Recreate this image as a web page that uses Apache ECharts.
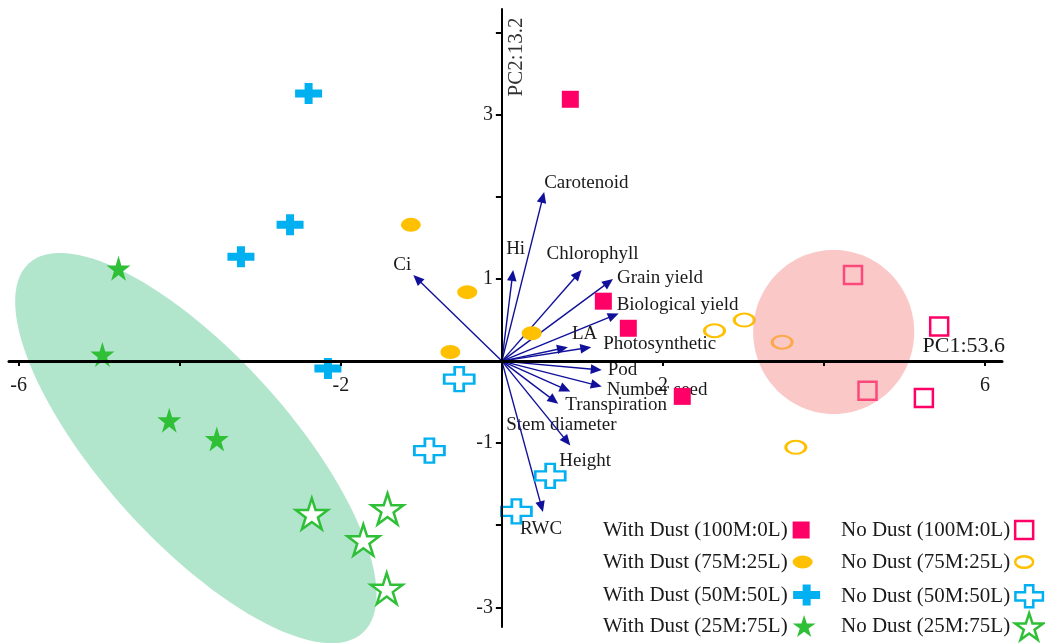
<!DOCTYPE html>
<html><head><meta charset="utf-8">
<script src="https://cdn.jsdelivr.net/npm/echarts@6/dist/echarts.min.js"></script>
<style>html,body{margin:0;padding:0;background:#fff}#c{width:1045px;height:643px}</style>
</head><body><div id="c"></div>
<script>
// ---------- data ----------
const xTickValues = [-6, -4, -2, 0, 2, 4, 6];
const xLabelValues = [-6, -2, 2, 6];
const yTickValues = [-3, -2, -1, 0, 1, 2, 3, 4];
const yLabelValues = [-3, -1, 1, 3];
const xAxisTitle = 'PC1:53.6';
const yAxisTitle = 'PC2:13.2';

const groupNames = [
  'With Dust (100M:0L)', 'With Dust (75M:25L)', 'With Dust (50M:50L)', 'With Dust (25M:75L)',
  'No Dust (100M:0L)', 'No Dust (75M:25L)', 'No Dust (50M:50L)', 'No Dust (25M:75L)'
];
const withDust100 = [[0.85, 3.19], [1.26, 0.73], [1.57, 0.40], [2.24, -0.43]];
const withDust75  = [[-1.13, 1.66], [-0.43, 0.84], [-0.64, 0.11], [0.37, 0.34]];
const withDust50  = [[-2.40, 3.26], [-2.63, 1.66], [-3.24, 1.27], [-2.16, -0.09]];
const withDust25  = [[-4.76, 1.13], [-4.96, 0.08], [-4.13, -0.72], [-3.54, -0.95]];
const noDust100   = [[4.36, 1.05], [5.43, 0.42], [4.54, -0.36], [5.24, -0.45]];
const noDust75    = [[2.64, 0.37], [3.01, 0.50], [3.48, 0.23], [3.65, -1.05]];
const noDust50    = [[-0.53, -0.22], [-0.90, -1.09], [0.60, -1.40], [0.18, -1.83]];
const noDust25    = [[-2.36, -1.86], [-1.42, -1.80], [-1.72, -2.18], [-1.43, -2.77]];

const loadingNames = ['Carotenoid', 'Hi', 'Chlorophyll', 'Grain yield', 'Biological yield', 'LA',
  'Photosynthetic', 'Pod', 'Number seed', 'Transpiration', 'Stem diameter', 'Height', 'RWC', 'Ci'];
const loadingX = [0.525, 0.14, 0.99, 1.38, 1.45, 0.82, 1.11, 1.24, 1.24, 0.85, 0.70, 0.85, 0.51, -1.10];
const loadingY = [2.06, 1.11, 1.11, 1.00, 0.58, 0.17, 0.17, -0.11, -0.31, -0.37, -0.52, -1.03, -1.84, 1.05];

// confidence ellipses: [centerX, centerY, semiAxisA, semiAxisB, angleDeg]
const ellipseNoDust = [4.12, 0.355, 1.0, 1.0, 0];
const ellipseWithDust25 = [-3.80, -1.06, 3.06, 1.15, -47.2];

// ---------- styles / layout ----------
const PINK = '#ff0066', ORANGE = '#ffc000', BLUE = '#00b0f0', GREEN = '#30c038', ARROW = '#10109a';
const FONT = 'Liberation Serif';
const TEXT = '#1a1a1a';
const SQUARE = 'rect';
const ELLIPSE = 'path://M0,6.5A10,6.5 0 1,1 20,6.5A10,6.5 0 1,1 0,6.5Z';
const CROSS = 'path://M9.5,0H17.5V6.5H27V14.5H17.5V21H9.5V14.5H0V6.5H9.5Z';
const CROSS_H = 'path://M10.5,0H19.5V7.5H30V16.5H19.5V24H10.5V16.5H0V7.5H10.5Z';
const STAR = 'path://M50,0L61.23,34.55L97.55,34.55L68.17,55.9L79.39,90.45L50,69.1L20.61,90.45L31.83,55.9L2.45,34.55L38.77,34.55Z';

const groupData = [withDust100, withDust75, withDust50, withDust25, noDust100, noDust75, noDust50, noDust25];
const groupStyle = [
  {symbol: SQUARE, size: [17, 17], color: PINK, hollow: false},
  {symbol: ELLIPSE, size: [20, 14], color: ORANGE, hollow: false},
  {symbol: CROSS, size: [27, 21], color: BLUE, hollow: false},
  {symbol: STAR, size: [24, 25], color: GREEN, hollow: false},
  {symbol: SQUARE, size: [18, 18], color: PINK, hollow: true},
  {symbol: ELLIPSE, size: [20, 13], color: ORANGE, hollow: true},
  {symbol: CROSS_H, size: [30, 24], color: BLUE, hollow: true},
  {symbol: STAR, size: [32, 31], color: GREEN, hollow: true}
];
const legendIconSize = [[17, 17], [20, 13], [28, 21], [23, 24], [18, 18], [18, 12], [28, 22], [28, 30]];
const legendRowCenter = [530, 562, 595, 627];
const legendColLeft = [603, 841];

// label offsets (px) from arrow tip
const labelOffsets = [[0, -9], [-7, -21], [-35, -16], [4, -1], [-2, -8], [4, -13], [12, -3], [6, 0],
  [5, 3], [-5, 14], [-52, 21], [-11, 15], [-23, 17], [-20, -10]];

function itemStyleFor(s) {
  return s.hollow ? {color: '#ffffff', borderColor: s.color, borderWidth: 2.5, opacity: 1}
                  : {color: s.color, borderWidth: 0, opacity: 1};
}

const series = [];
groupNames.forEach((name, i) => {
  const s = groupStyle[i];
  series.push({
    name: name, type: 'scatter', data: groupData[i], symbol: s.symbol, symbolSize: s.size,
    itemStyle: itemStyleFor(s), z: 4, emphasis: {disabled: true}
  });
});

series.push({
  name: 'loadings', type: 'custom', z: 3, silent: true,
  data: loadingNames.map((n, i) => [loadingX[i], loadingY[i]]),
  encode: {x: 0, y: 1},
  renderItem: function (params, api) {
    const o = api.coord([0, 0]);
    const p = api.coord([api.value(0), api.value(1)]);
    const dx = p[0] - o[0], dy = p[1] - o[1];
    const L = Math.hypot(dx, dy), ux = dx / L, uy = dy / L;
    const hl = 11, hw = 4.8;
    const bx = p[0] - ux * hl, by = p[1] - uy * hl;
    const off = labelOffsets[params.dataIndex];
    return {type: 'group', children: [
      {type: 'line', shape: {x1: o[0], y1: o[1], x2: bx + ux * 2, y2: by + uy * 2}, style: {stroke: ARROW, lineWidth: 1.4}},
      {type: 'polygon', shape: {points: [p, [bx - uy * hw, by + ux * hw], [bx + uy * hw, by - ux * hw]]}, style: {fill: ARROW}},
      {type: 'text', x: p[0] + off[0], y: p[1] + off[1], style: {
        text: loadingNames[params.dataIndex], fill: TEXT, fontFamily: FONT, fontSize: 19,
        align: 'left', verticalAlign: 'middle'}}
    ]};
  }
});

function renderEllipse(params, api) {
  const cx = api.value(0), cy = api.value(1), a = api.value(2), b = api.value(3);
  const ang = api.value(4) * Math.PI / 180;
  const pts = [];
  for (let k = 0; k < 120; k++) {
    const t = k / 120 * 2 * Math.PI;
    const ex = a * Math.cos(t), ey = b * Math.sin(t);
    pts.push(api.coord([cx + ex * Math.cos(ang) - ey * Math.sin(ang), cy + ex * Math.sin(ang) + ey * Math.cos(ang)]));
  }
  return {type: 'polygon', shape: {points: pts}, style: {fill: api.visual('color')}};
}

// green ellipse below the points, pink circle above
series.push({
  name: 'ellipseWith', type: 'custom', z: 1, silent: true,
  data: [{value: ellipseWithDust25}], itemStyle: {color: 'rgba(100,204,153,0.5)'},
  encode: {x: 0, y: 1}, renderItem: renderEllipse
});
series.push({
  name: 'ellipseNo', type: 'custom', z: 6, silent: true,
  data: [{value: ellipseNoDust}], itemStyle: {color: 'rgba(248,145,145,0.5)'},
  encode: {x: 0, y: 1}, renderItem: renderEllipse
});

// tick labels placed through the axes' own scales
series.push({
  name: 'tickLabels', type: 'custom', z: 12, silent: true,
  data: xLabelValues.map(v => [v, 0, 0]).concat(yLabelValues.map(v => [0, v, 1])),
  encode: {x: 0, y: 1},
  renderItem: function (params, api) {
    const isY = api.value(2) === 1;
    const v = isY ? api.value(1) : api.value(0);
    const p = api.coord([api.value(0), api.value(1)]);
    return {type: 'text', x: isY ? p[0] - 9 : p[0], y: isY ? p[1] : p[1] + 15, style: {
      text: String(v), fill: TEXT, fontFamily: FONT, fontSize: 20,
      align: isY ? 'right' : 'center', verticalAlign: isY ? 'middle' : 'top'}};
  }
});

const legends = groupNames.map((name, i) => {
  const s = groupStyle[i];
  const sz = legendIconSize[i];
  const row = i % 4, col = Math.floor(i / 4);
  const h = Math.max(sz[1], 22);
  return {
    show: true, data: [{name: name, icon: s.symbol, itemStyle: itemStyleFor(s)}],
    left: legendColLeft[col], top: legendRowCenter[row] - h / 2, padding: 0,
    itemWidth: sz[0], itemHeight: sz[1], align: 'right', selectedMode: false,
    textStyle: {fontFamily: FONT, fontSize: 21, color: TEXT, lineHeight: 22}
  };
});

const option = {
  backgroundColor: '#ffffff',
  animation: false,
  grid: {left: 9, right: 43, top: 9, bottom: 16, containLabel: false, outerBoundsMode: 'none'},
  xAxis: {
    type: 'value', min: -6.12, max: 6.21, z: 8,
    axisLine: {onZero: true, lineStyle: {color: '#000', width: 3}},
    axisTick: {show: true, customValues: xTickValues, length: 5, lineStyle: {color: '#000', width: 2}},
    axisLabel: {show: false},
    splitLine: {show: false}
  },
  yAxis: {
    type: 'value', min: -3.24, max: 4.29, z: 8,
    axisLine: {onZero: true, lineStyle: {color: '#000', width: 2}},
    axisTick: {show: true, customValues: yTickValues, length: 6, lineStyle: {color: '#000', width: 2}},
    axisLabel: {show: false},
    splitLine: {show: false}
  },
  legend: legends,
  graphic: [
    {type: 'text', right: 40, top: 335, style: {text: xAxisTitle, fontFamily: FONT, fontSize: 22, fill: TEXT}},
    {type: 'text', x: 516, y: 57, rotation: Math.PI / 2, style: {text: yAxisTitle, fontFamily: FONT, fontSize: 21, fill: '#333', align: 'center', verticalAlign: 'middle'}}
  ],
  series: series
};

const chart = echarts.init(document.getElementById('c'), null, {renderer: 'canvas'});
chart.setOption(option);
</script>
</body></html>
